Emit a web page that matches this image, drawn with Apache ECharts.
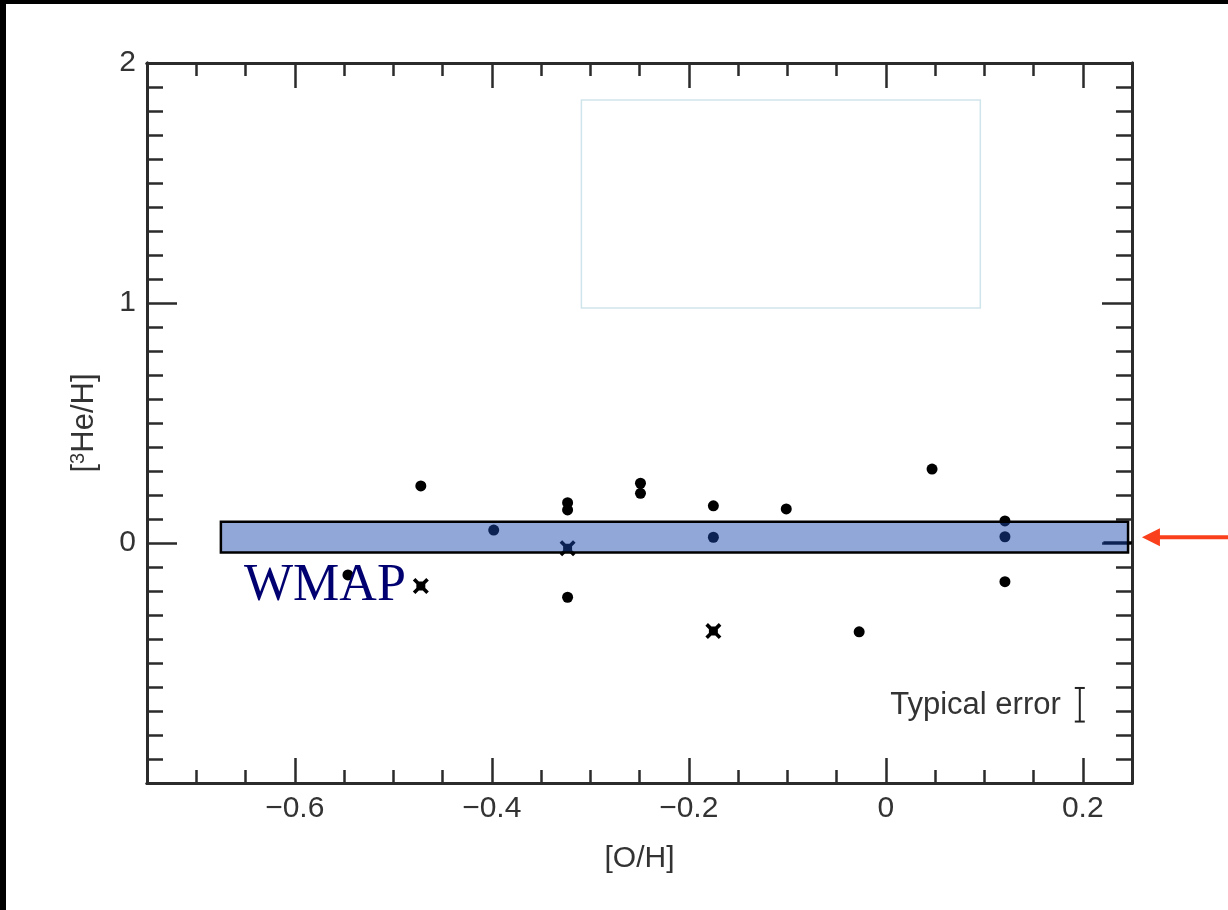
<!DOCTYPE html>
<html>
<head>
<meta charset="utf-8">
<script src="https://cdn.jsdelivr.net/npm/echarts@6/dist/echarts.min.js"></script>
<style>
  html, body { margin: 0; padding: 0; background: #000; }
  #chart { position: absolute; left: 6px; top: 4px; width: 1222px; height: 906px; background: #fff; }
</style>
</head>
<body>
<div id="chart"></div>
<script>
  // ---- data ----
  const dotOH = [-0.546, -0.472, -0.398, -0.323, -0.323, -0.323, -0.249, -0.249, -0.175, -0.175, -0.101, -0.027, 0.047, 0.121, 0.121, 0.121];
  const dotHe = [-0.133, 0.238, 0.054, 0.168, 0.138, -0.226, 0.249, 0.207, 0.155, 0.024, 0.142, -0.370, 0.308, 0.092, 0.026, -0.161];
  const crossOH = [-0.472, -0.323, -0.175];
  const crossHe = [-0.179, -0.022, -0.367];

  // WMAP band [xFrom, xTo, yFrom, yTo] and its level mark
  const wmapBand = [-0.675, 0.246, -0.040, 0.089];
  const wmapMarkX = [0.221, 0.25];
  const wmapMarkY = 0.001;
  // empty light-blue box
  const emptyBox = [-0.309, 0.096, 0.979, 1.846];
  // typical error bar [x, low, high]
  const typicalError = [0.197, -0.744, -0.604];
  // red arrow [tailX, tipX, y]
  const arrowLine = [0.36, 0.2601, 0.0237];
  // WMAP label anchor [x, y]
  const wmapLabelAt = [-0.6515, -0.18];

  // axes
  const xRange = [-0.75, 0.25];
  const yRange = [-1, 2];
  const xTickLabels = [-0.6, -0.4, -0.2, 0, 0.2];
  const yTickLabels = [0, 1, 2];
  const yMajorTicks = [0, 1];

  const steps = (from, to, step) => {
    const out = [];
    for (let v = from; v <= to + 1e-9; v += step) out.push(Math.round(v * 1000) / 1000);
    return out;
  };
  const xMinorTicks = steps(-0.7, 0.2, 0.05);
  const yMinorTicks = steps(-0.9, 1.9, 0.1);

  const axisColor = '#2b2b2b';
  const textColor = '#333';
  const fontFamily = '"Liberation Sans", Arial, sans-serif';
  const fmt = v => (v < 0 ? '\u2212' + Math.abs(v) : String(v));

  const makeAxis = (position, range, ticks, length, labels, extra) => Object.assign({
    type: 'value',
    position,
    min: range[0],
    max: range[1],
    splitLine: { show: false },
    axisLine: { show: true, onZero: false, lineStyle: { color: axisColor, width: 3 } },
    axisTick: { show: true, inside: true, length, customValues: ticks, lineStyle: { color: axisColor, width: 2.5 } },
    axisLabel: labels ? {
      show: true, customValues: labels, formatter: fmt,
      color: textColor, fontSize: 30, fontFamily, margin: 11
    } : { show: false }
  }, extra || {});

  const chart = echarts.init(document.getElementById('chart'));

  // filled square with four short diagonal spikes (one outline)
  const crossPath = 'path://M1.6,0L3.8,2.2L6.2,2.2L8.4,0L10,1.6L7.8,3.8L7.8,6.2L10,8.4L8.4,10' +
    'L6.2,7.8L3.8,7.8L1.6,10L0,8.4L2.2,6.2L2.2,3.8L0,1.6Z';

  const option = {
    animation: false,
    grid: { left: 141, right: 96, top: 59, bottom: 127 },
    xAxis: [
      makeAxis('bottom', xRange, xTickLabels, 25, xTickLabels, {
        name: '[O/H]', nameLocation: 'middle', nameGap: 61,
        nameTextStyle: { color: textColor, fontSize: 30, fontFamily }
      }),
      makeAxis('bottom', xRange, xMinorTicks, 13, null),
      makeAxis('top', xRange, xTickLabels, 25, null),
      makeAxis('top', xRange, xMinorTicks, 13, null)
    ],
    yAxis: [
      makeAxis('left', yRange, yMajorTicks, 30, yTickLabels, {
        name: '[{sup|3}He/H]', nameLocation: 'middle', nameGap: 47, nameRotate: 90,
        nameTextStyle: {
          color: textColor, fontSize: 31, fontFamily,
          rich: { sup: { fontSize: 20, fontFamily, color: textColor, padding: [0, 0, 12, 0] } }
        }
      }),
      makeAxis('left', yRange, yMinorTicks, 16, null),
      makeAxis('right', yRange, yMajorTicks, 30, null),
      makeAxis('right', yRange, yMinorTicks, 16, null)
    ],
    series: [
      {
        name: 'dots',
        type: 'scatter',
        z: 2,
        symbol: 'circle',
        symbolSize: 11,
        itemStyle: { color: '#000', opacity: 1 },
        data: dotOH.map((x, i) => [x, dotHe[i]])
      },
      {
        name: 'crosses',
        type: 'scatter',
        z: 2,
        symbol: crossPath,
        symbolSize: 16,
        itemStyle: { color: '#000', opacity: 1 },
        data: crossOH.map((x, i) => [x, crossHe[i]])
      },
      {
        name: 'wmap level',
        type: 'line',
        z: 2,
        symbol: 'none',
        lineStyle: { color: '#000', width: 3 },
        data: wmapMarkX.map(x => [x, wmapMarkY])
      },
      {
        name: 'WMAP band',
        type: 'custom',
        z: 5,
        encode: { x: [0, 1], y: [2, 3] },
        renderItem: (params, api) => {
          const p0 = api.coord([api.value(0), api.value(3)]);
          const p1 = api.coord([api.value(1), api.value(2)]);
          return {
            type: 'rect',
            shape: { x: p0[0], y: p0[1], width: p1[0] - p0[0], height: p1[1] - p0[1] },
            style: { fill: 'rgba(22,72,172,0.48)', stroke: '#000', lineWidth: 2.5 }
          };
        },
        data: [wmapBand]
      },
      {
        name: 'empty box',
        type: 'custom',
        z: 5,
        encode: { x: [0, 1], y: [2, 3] },
        renderItem: (params, api) => {
          const p0 = api.coord([api.value(0), api.value(3)]);
          const p1 = api.coord([api.value(1), api.value(2)]);
          return {
            type: 'rect',
            shape: { x: p0[0], y: p0[1], width: p1[0] - p0[0], height: p1[1] - p0[1] },
            style: { fill: 'none', stroke: '#cfe5eb', lineWidth: 1.5 }
          };
        },
        data: [emptyBox]
      },
      {
        name: 'typical error',
        type: 'custom',
        z: 5,
        encode: { x: 0, y: [1, 2] },
        renderItem: (params, api) => {
          const lo = api.coord([api.value(0), api.value(1)]);
          const hi = api.coord([api.value(0), api.value(2)]);
          const cap = 5;
          const lineStyle = { stroke: '#222', lineWidth: 2 };
          return {
            type: 'group',
            children: [
              { type: 'line', shape: { x1: lo[0], y1: lo[1], x2: hi[0], y2: hi[1] }, style: lineStyle },
              { type: 'line', shape: { x1: lo[0] - cap, y1: lo[1], x2: lo[0] + cap, y2: lo[1] }, style: lineStyle },
              { type: 'line', shape: { x1: hi[0] - cap, y1: hi[1], x2: hi[0] + cap, y2: hi[1] }, style: lineStyle },
              {
                type: 'text',
                x: lo[0] - 19,
                y: (lo[1] + hi[1]) / 2 + 1,
                style: {
                  text: 'Typical error', fill: textColor,
                  font: '31px "Liberation Sans", Arial, sans-serif',
                  align: 'right', verticalAlign: 'middle'
                }
              }
            ]
          };
        },
        data: [typicalError]
      },
      {
        name: 'WMAP label',
        type: 'custom',
        z: 6,
        renderItem: (params, api) => {
          const p = api.coord([api.value(0), api.value(1)]);
          return {
            type: 'text',
            x: p[0],
            y: p[1],
            style: {
              text: 'WMAP', fill: '#000070',
              font: '52px "Liberation Serif", "Times New Roman", serif',
              align: 'left', verticalAlign: 'middle'
            }
          };
        },
        data: [wmapLabelAt]
      },
      {
        name: 'arrow',
        type: 'custom',
        z: 6,
        clip: false,
        renderItem: (params, api) => {
          const tail = api.coord([api.value(0), api.value(2)]);
          const tip = api.coord([api.value(1), api.value(2)]);
          const headLen = 18;
          const headHalf = 9;
          const color = '#fa3f1c';
          return {
            type: 'group',
            children: [
              {
                type: 'line',
                shape: { x1: tail[0], y1: tail[1], x2: tip[0] + headLen - 2, y2: tip[1] },
                style: { stroke: color, lineWidth: 4 }
              },
              {
                type: 'polygon',
                shape: { points: [[tip[0], tip[1]], [tip[0] + headLen, tip[1] - headHalf], [tip[0] + headLen, tip[1] + headHalf]] },
                style: { fill: color }
              }
            ]
          };
        },
        data: [arrowLine]
      }
    ]
  };

  chart.setOption(option);
</script>
</body>
</html>
